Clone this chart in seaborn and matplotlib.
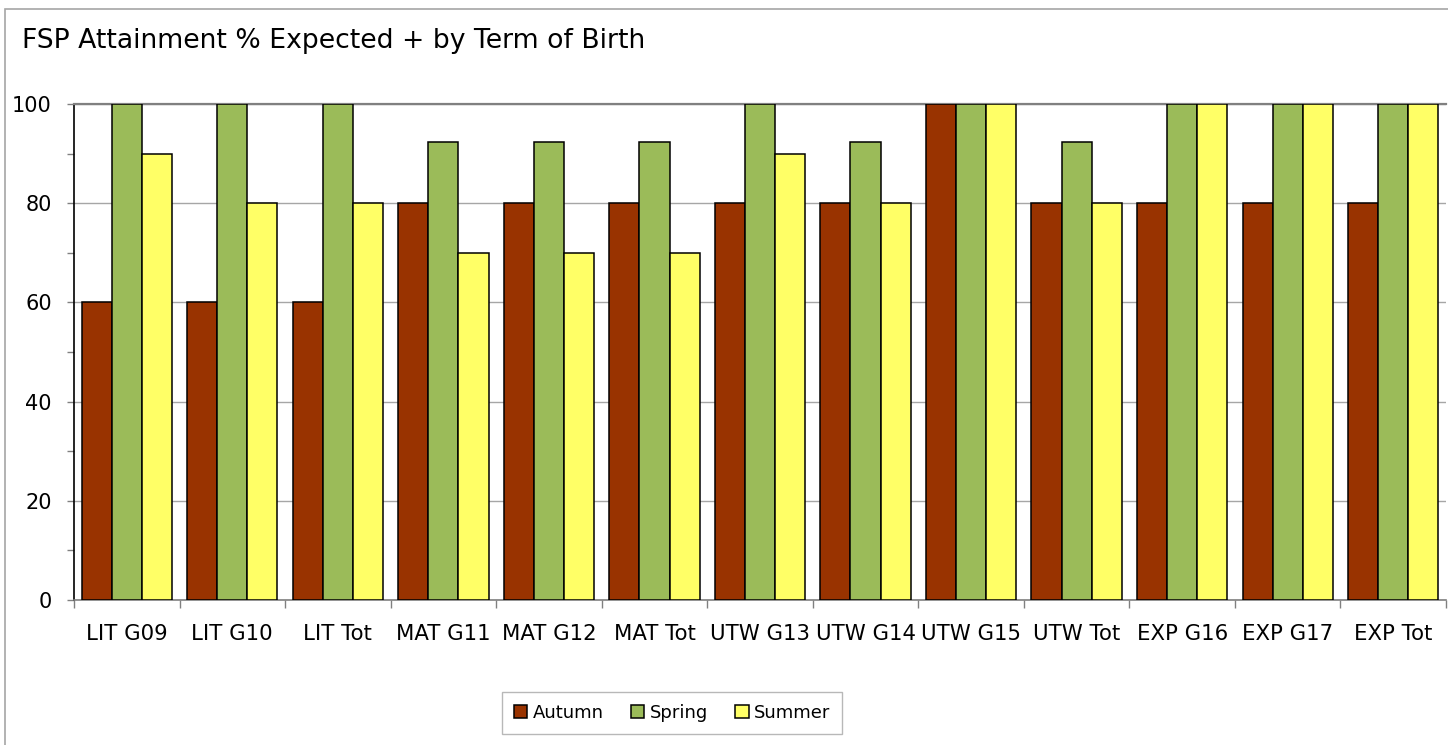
import matplotlib
matplotlib.use("Agg")
import matplotlib.pyplot as plt
from matplotlib.patches import Rectangle
from matplotlib.ticker import FixedLocator
import seaborn as sns
import pandas as pd
import numpy as np

categories = ["LIT G09", "LIT G10", "LIT Tot", "MAT G11", "MAT G12", "MAT Tot",
              "UTW G13", "UTW G14", "UTW G15", "UTW Tot", "EXP G16", "EXP G17", "EXP Tot"]
autumn = [60, 60, 60, 80, 80, 80, 80, 80, 100, 80, 80, 80, 80]
spring = [100, 100, 100, 92.3, 92.3, 92.3, 100, 92.3, 100, 92.3, 100, 100, 100]
summer = [90, 80, 80, 70, 70, 70, 90, 80, 100, 80, 100, 100, 100]
terms = ["Autumn", "Spring", "Summer"]
colors = ["#993300", "#9BBB59", "#FFFF66"]
y_ticks = [0, 20, 40, 60, 80, 100]

df = pd.DataFrame({
    "category": categories * 3,
    "term": [terms[0]] * len(categories) + [terms[1]] * len(categories) + [terms[2]] * len(categories),
    "value": autumn + spring + summer,
})

sns.set_theme(style="white")
plt.rcParams["font.family"] = ["DejaVu Sans"]
plt.rcParams["text.color"] = "black"
plt.rcParams["xtick.color"] = "black"
plt.rcParams["ytick.color"] = "black"

fig = plt.figure(figsize=(14.48, 7.45), dpi=100)
ax = fig.add_axes([74 / 1448, 1 - 600 / 745, (1446 - 74) / 1448, (600 - 104) / 745])

sns.barplot(data=df, x="category", y="value", hue="term", order=categories,
            hue_order=terms, palette=colors, width=0.855, edgecolor="black",
            linewidth=1.1, saturation=1, ax=ax, legend=True, errorbar=None, zorder=3)

ax.set_xlim(-0.5, len(categories) - 0.5)
ax.set_ylim(0, 100)
ax.set_yticks(y_ticks)
ax.set_yticklabels([str(v) for v in y_ticks], fontsize=15)
ax.yaxis.set_minor_locator(FixedLocator([10, 30, 50, 70, 90]))
ax.yaxis.grid(True, which="major", color="#A6A6A6", linewidth=1, zorder=0)
ax.set_axisbelow(True)

ax.set_xticks(range(len(categories)))
ax.set_xticklabels(categories, fontsize=15.3)
ax.xaxis.set_minor_locator(FixedLocator(np.arange(-0.5, len(categories), 1.0)))
ax.tick_params(axis="x", which="major", length=0, pad=17)
ax.tick_params(axis="x", which="minor", length=6, width=1, color="#808080", direction="out", bottom=True)
ax.tick_params(axis="y", which="both", length=5, width=1, color="#808080", direction="out", left=True)
ax.tick_params(axis="y", which="major", pad=11)
ax.set_xlabel("")
ax.set_ylabel("")

ax.spines["right"].set_visible(False)
ax.spines["top"].set_color("#808080")
ax.spines["top"].set_linewidth(1.6)
ax.spines["left"].set_color("black")
ax.spines["left"].set_linewidth(1.2)
ax.spines["bottom"].set_color("#808080")
ax.spines["bottom"].set_linewidth(1.2)

fig.text(22 / 1448, 1 - 41 / 745, "FSP Attainment % Expected + by Term of Birth",
         fontsize=19.2, ha="left", va="center", color="black")

handles, labels = ax.get_legend_handles_labels()
ax.legend(handles, labels, loc="center", bbox_to_anchor=(672 / 1448, 1 - 713 / 745),
          bbox_transform=fig.transFigure, ncol=3, frameon=True, fancybox=False,
          edgecolor="#A6A6A6", fontsize=13, handlelength=0.75, handleheight=0.75,
          handletextpad=0.3, columnspacing=1.5, borderpad=0.65, borderaxespad=0)

fig.patches.append(Rectangle((5 / 1448, -0.1), 1.2, 1 - 9 / 745 + 0.1,
                             transform=fig.transFigure, fill=False,
                             edgecolor="#A6A6A6", linewidth=1.2))

fig.savefig("out.png", dpi=100)
